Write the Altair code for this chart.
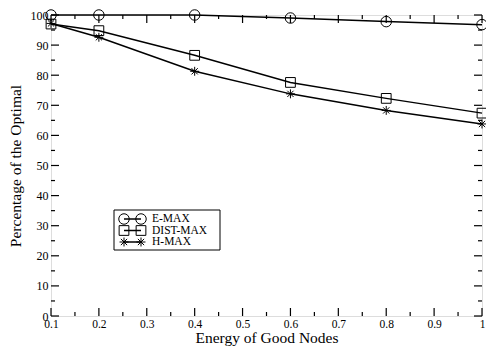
import altair as alt
import pandas as pd

x_vals = [0.1, 0.2, 0.4, 0.6, 0.8, 1.0]
emax = [100, 100, 100, 99.0, 97.8, 96.8]
distmax = [97.0, 94.8, 86.6, 77.6, 72.3, 67.4]
hmax = [97.2, 92.6, 81.3, 73.8, 68.3, 63.8]
series_names = ["E-MAX", "DIST-MAX", "H-MAX"]

rows = []
for name, vals in zip(series_names, [emax, distmax, hmax]):
    for xv, yv in zip(x_vals, vals):
        rows.append({"x": xv, "y": yv, "series": name})
df = pd.DataFrame(rows)

W, H = 431, 301
FONT = "Liberation Serif"
STAR = "M0,-1L0,1M-1,0L1,0M-0.7,-0.7L0.7,0.7M-0.7,0.7L0.7,-0.7"
shape_scale = alt.Scale(domain=series_names, range=["circle", "square", STAR])
size_scale = alt.Scale(domain=series_names, range=[110, 80, 100])

xs = alt.Scale(domain=[0.1, 1.0], nice=False, zero=False)
ys = alt.Scale(domain=[0, 100], nice=False)

x_major = [round(0.1 * i, 1) for i in range(1, 11)]
x_minor = [round(0.15 + 0.1 * i, 2) for i in range(9)]
y_major = list(range(0, 101, 10))
y_minor = list(range(5, 100, 10))

XAX = alt.Axis(values=x_major, format="~g", tickSize=0, domain=False,
               grid=False, labelFlush=False, labelOverlap=False,
               labelFont=FONT, labelFontSize=11.5,
               labelColor="black", labelPadding=2,
               title="Energy of Good Nodes", titleFont=FONT,
               titleFontSize=15.5, titleFontWeight="normal",
               titleColor="black", titleY=26.5, titleBaseline="alphabetic")
YAX = alt.Axis(values=y_major, tickSize=0, domain=False, grid=False,
               labelOverlap=False, labelFlush=False,
               labelFont=FONT, labelFontSize=12, labelColor="black",
               labelPadding=3,
               title="Percentage of the Optimal", titleFont=FONT,
               titleFontSize=15.5, titleFontWeight="normal",
               titleColor="black", titlePadding=7)

base = alt.Chart(df)

lines = base.mark_line(color="black", strokeWidth=1.5).encode(
    x=alt.X("x:Q", scale=xs, axis=XAX),
    y=alt.Y("y:Q", scale=ys, axis=YAX),
    detail="series:N",
)

points = base.mark_point(filled=False, color="black", strokeWidth=1, opacity=1).encode(
    x=alt.X("x:Q", scale=xs, axis=XAX),
    y=alt.Y("y:Q", scale=ys, axis=YAX),
    shape=alt.Shape("series:N", scale=shape_scale, legend=None),
    size=alt.Size("series:N", scale=size_scale, legend=None),
)

def xticks(vals, length, top):
    d = pd.DataFrame({"t": vals})
    if top:
        y1, y2 = 0, length
    else:
        y1, y2 = H, H - length
    return alt.Chart(d).mark_rule(color="black", strokeWidth=1.2).encode(
        x=alt.X("t:Q", scale=xs, axis=XAX), y=alt.value(y1), y2=alt.value(y2))

def yticks(vals, length, right):
    d = pd.DataFrame({"t": vals})
    if right:
        x1, x2 = W, W - length
    else:
        x1, x2 = 0, length
    return alt.Chart(d).mark_rule(color="black", strokeWidth=1.2).encode(
        y=alt.Y("t:Q", scale=ys, axis=YAX), x=alt.value(x1), x2=alt.value(x2))

ticks = [
    xticks(x_major, 8, False), xticks(x_minor, 4, False),
    xticks(x_major, 8, True), xticks(x_minor, 4, True),
    yticks(y_major, 8, False), yticks(y_minor, 4, False),
    yticks(y_major, 8, True), yticks(y_minor, 4, True),
]

# legend (layout in pixels)
leg = pd.DataFrame({
    "series": series_names,
    "ly": [204, 215.5, 227],
})
LX0, LX1 = 63, 169
leg_box = alt.Chart(pd.DataFrame({"a": [0]})).mark_rect(
    fill="white", stroke="black", strokeWidth=1).encode(
    x=alt.value(LX0), x2=alt.value(LX1), y=alt.value(195), y2=alt.value(235))
leg_line = alt.Chart(leg).mark_rule(color="black", strokeWidth=1.5).encode(
    x=alt.value(73), x2=alt.value(90),
    y=alt.Y("ly:Q", scale=None))
leg_pts = alt.Chart(leg).transform_fold(
    ["p1", "p2"]).transform_calculate(
    lx="datum.key == 'p1' ? 73 : 90").mark_point(filled=False, color="black", strokeWidth=1, opacity=1).encode(
    x=alt.X("lx:Q", scale=None), y=alt.Y("ly:Q", scale=None),
    shape=alt.Shape("series:N", scale=shape_scale, legend=None),
    size=alt.Size("series:N", scale=size_scale, legend=None))
leg_text = alt.Chart(leg).mark_text(
    align="left", baseline="middle", font=FONT, fontSize=11.5, color="black").encode(
    x=alt.value(101), y=alt.Y("ly:Q", scale=None), text="series:N")

chart = alt.layer(lines, points, *ticks, leg_box, leg_line, leg_pts, leg_text).resolve_scale(
    x="shared", y="shared"
).properties(
    width=W, height=H,
    autosize=alt.AutoSizeParams(type="none"),
    padding={"left": 51, "top": 15, "right": 4, "bottom": 31},
).configure_view(stroke="black", strokeWidth=1.5).configure(background="white")

chart.save("out.html", embed_options={"renderer": "svg", "actions": False})
